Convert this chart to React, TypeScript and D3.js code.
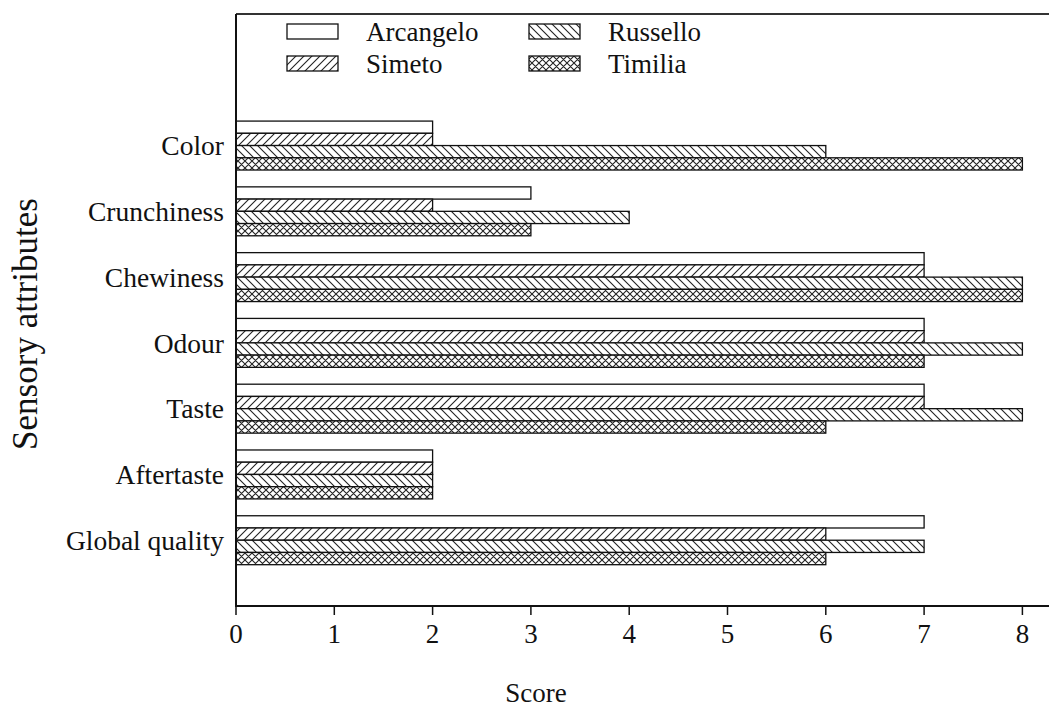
import React from "react";
import * as d3 from "d3";

const categories = ["Color", "Crunchiness", "Chewiness", "Odour", "Taste", "Aftertaste", "Global quality"];
const seriesNames = ["Arcangelo", "Simeto", "Russello", "Timilia"];
const arcangelo = [2, 3, 7, 7, 7, 2, 7];
const simeto = [2, 2, 7, 7, 7, 2, 6];
const russello = [6, 4, 8, 8, 8, 2, 7];
const timilia = [8, 3, 8, 7, 6, 2, 6];
const xTicks = [0, 1, 2, 3, 4, 5, 6, 7, 8];

const seriesValues = [arcangelo, simeto, russello, timilia];
const fills = ["#ffffff", "url(#hatchFwd)", "url(#hatchBack)", "url(#hatchCross)"];

const W = 1049;
const H = 713;
const left = 236;
const top = 14;
const bottom = 606;

export default function App() {
  const x = d3.scaleLinear().domain([0, 8]).range([left, 1022.4]);
  const y = d3.scaleLinear().domain([0, 9]).range([top, bottom]);
  const barH = y(0.186) - y(0);
  const font = "'Liberation Serif', 'Times New Roman', serif";

  return (
    <svg width={W} height={H} style={{ position: "absolute", left: 0, top: 0, background: "#fff" }} fontFamily={font}>
      <defs>
        <pattern id="hatchFwd" patternUnits="userSpaceOnUse" width={8} height={8}>
          <rect width={8} height={8} fill="#fff" />
          <path d="M0,8 L8,0 M-2,2 L2,-2 M6,10 L10,6" stroke="#222" strokeWidth={1.1} />
        </pattern>
        <pattern id="hatchBack" patternUnits="userSpaceOnUse" width={8} height={8}>
          <rect width={8} height={8} fill="#fff" />
          <path d="M0,0 L8,8 M-2,6 L2,10 M6,-2 L10,2" stroke="#222" strokeWidth={1.1} />
        </pattern>
        <pattern id="hatchCross" patternUnits="userSpaceOnUse" width={7} height={7}>
          <rect width={7} height={7} fill="#fff" />
          <path d="M0,7 L7,0 M-2,2 L2,-2 M5,9 L9,5 M0,0 L7,7 M-2,5 L2,9 M5,-2 L9,2" stroke="#222" strokeWidth={1.1} />
        </pattern>
      </defs>

      {categories.map((c, i) => {
        const center = y(i + 2);
        const groupTop = center - (barH * seriesValues.length) / 2;
        return (
          <g key={c}>
            {seriesValues.map((vals, s) => (
              <rect
                key={s}
                x={x(0)}
                y={groupTop + s * barH}
                width={x(vals[i]) - x(0)}
                height={barH}
                fill={fills[s]}
                stroke="#111"
                strokeWidth={1.3}
              />
            ))}
          </g>
        );
      })}

      <line x1={left} x2={W} y1={top} y2={top} stroke="#333" strokeWidth={2} />
      <line x1={left} x2={left} y1={top} y2={bottom} stroke="#111" strokeWidth={2} />
      <line x1={left - 1} x2={W} y1={bottom} y2={bottom} stroke="#111" strokeWidth={2} />

      {xTicks.map((t) => (
        <g key={t}>
          <line x1={x(t)} x2={x(t)} y1={bottom} y2={bottom + 9} stroke="#111" strokeWidth={1.5} />
          <text x={x(t)} y={643} textAnchor="middle" fontSize={27} fill="#111">
            {t}
          </text>
        </g>
      ))}

      {categories.map((c, i) => (
        <text key={c} x={224} y={y(i + 2)} dy="0.35em" textAnchor="end" fontSize={27.5} fill="#111">
          {c}
        </text>
      ))}

      <text x={536} y={702} textAnchor="middle" fontSize={27} fill="#111">
        Score
      </text>
      <text transform={`translate(37,${324}) rotate(-90)`} textAnchor="middle" fontSize={35} fill="#111">
        Sensory attributes
      </text>

      {seriesNames.map((name, s) => {
        const colIdx = s === 0 || s === 1 ? 0 : 1;
        const rowIdx = s === 0 || s === 2 ? 0 : 1;
        const bx = colIdx === 0 ? 287 : 529;
        const by = rowIdx === 0 ? 24 : 56;
        return (
          <g key={name}>
            <rect x={bx} y={by} width={51} height={15} fill={fills[s]} stroke="#111" strokeWidth={1.3} />
            <text x={bx + 79} y={by + 17} fontSize={27} fill="#111">
              {name}
            </text>
          </g>
        );
      })}
    </svg>
  );
}
